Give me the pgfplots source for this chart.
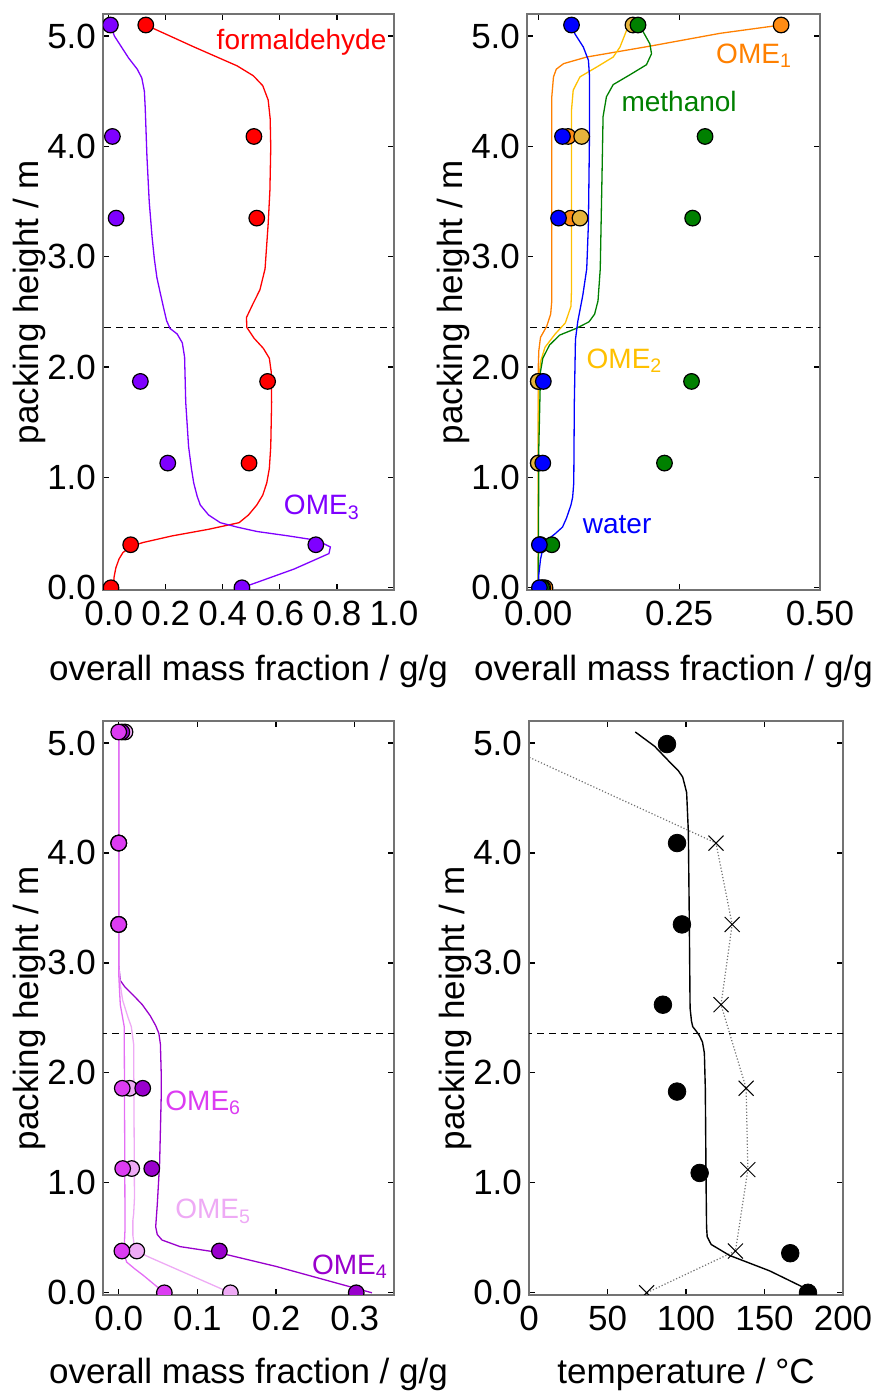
\documentclass[border=0pt]{standalone}
\usepackage{fontspec}
\setmainfont{Liberation Sans}
\usepackage{pgfplots}
\pgfplotsset{compat=1.18}

\definecolor{cRed}{RGB}{255,0,0}
\definecolor{cOMEiii}{RGB}{127,0,255}
\definecolor{cBlue}{RGB}{0,0,255}
\definecolor{cGreen}{RGB}{0,128,0}
\definecolor{cOrange}{RGB}{255,128,0}
\definecolor{cOrangeFill}{RGB}{255,140,20}
\definecolor{cGold}{RGB}{255,192,0}
\definecolor{cGoldFill}{RGB}{230,180,60}
\definecolor{cOMEiv}{RGB}{153,0,204}
\definecolor{cOMEv}{RGB}{238,170,245}
\definecolor{cOMEvi}{RGB}{220,60,242}
\definecolor{cOMEviLine}{RGB}{228,110,245}

\newcommand{\bigfont}{\fontsize{17.5}{20}\selectfont}
\newcommand{\lblfont}{\fontsize{14}{16}\selectfont}

\pgfplotsset{
  panel/.style={
    scale only axis,
    clip marker paths=true,
    tick align=inside,
    major tick length=3pt,
    tick style={line width=0.6pt, black},
    x axis line style={line width=0.8pt, black},
    y axis line style={line width=0.8pt, black!55},
    ymin=-0.02, ymax=5.2,
    ytick={0,1,2,3,4,5},
    yticklabels={0.0,1.0,2.0,3.0,4.0,5.0},
    tick label style={font=\bigfont},
    xticklabel style={yshift=-2pt},
    label style={font=\bigfont},
    xlabel style={yshift=-8pt},
    ylabel style={yshift=-6pt},
    ylabel={packing height / m},
    /pgf/number format/assume math mode=true,
  },
  lowrow/.style={xlabel style={yshift=1.2pt}},
  meas/.style={only marks, mark=*, mark size=3.9pt,
    mark options={draw=black, line width=0.6pt, fill=#1}},
  sim/.style={no marks, line width=0.65pt, color=#1},
  sep/.style={no marks, black, line width=0.5pt, dash pattern=on 3.5pt off 2.5pt},
}

\begin{document}
\begin{tikzpicture}
\useasboundingbox (0,0) rectangle (438pt,696pt);

% ---------------- formaldehyde and OME3 ----------------
\begin{axis}[panel, at={(51.5pt,401pt)}, anchor=south west,
  width=145.5pt, height=288pt,
  xmin=-0.02, xmax=1.0,
  xtick={0,0.2,0.4,0.6,0.8,1.0},
  xticklabels={0.0,0.2,0.4,0.6,0.8,1.0},
  xlabel={overall mass fraction / g/g}]
\addplot[sep] coordinates {(-0.1,2.356) (1.1,2.356)};
\addplot[sim=cRed] coordinates {
 (0.130,5.10) (0.300,4.90) (0.450,4.73) (0.507,4.64) (0.540,4.55) (0.559,4.42)
 (0.566,4.25) (0.568,3.99) (0.565,3.60) (0.559,3.30) (0.548,2.89) (0.530,2.70)
 (0.505,2.57) (0.483,2.45) (0.484,2.36) (0.510,2.26) (0.542,2.17) (0.563,2.08)
 (0.570,1.95) (0.571,1.68) (0.568,1.28) (0.563,1.08) (0.554,0.95) (0.540,0.84)
 (0.519,0.75) (0.490,0.66) (0.457,0.59) (0.350,0.53) (0.222,0.47) (0.120,0.41)
 (0.083,0.38) (0.050,0.32) (0.036,0.26) (0.025,0.18) (0.019,0.10) (0.016,0.0)};
\addplot[sim=cOMEiii] coordinates {
 (0.006,5.10) (0.020,5.00) (0.040,4.92) (0.070,4.80) (0.100,4.70) (0.116,4.62)
 (0.125,4.50) (0.128,4.35) (0.134,3.91) (0.142,3.50) (0.152,3.18) (0.160,2.98)
 (0.169,2.81) (0.180,2.68) (0.193,2.53) (0.203,2.42) (0.215,2.35) (0.240,2.30)
 (0.258,2.22) (0.266,2.09) (0.270,1.68) (0.280,1.28) (0.290,1.08) (0.298,0.95)
 (0.310,0.83) (0.321,0.75) (0.350,0.66) (0.391,0.59) (0.450,0.55) (0.520,0.51)
 (0.630,0.47) (0.730,0.43) (0.777,0.37) (0.772,0.31) (0.650,0.17) (0.467,0.0)};
\addplot[meas=cOMEiii] coordinates {
 (0.006,5.10) (0.013,4.09) (0.026,3.35) (0.111,1.87) (0.207,1.13) (0.726,0.39) (0.467,0.0)};
\addplot[meas=cRed] coordinates {
 (0.130,5.10) (0.509,4.09) (0.519,3.35) (0.557,1.87) (0.492,1.13) (0.077,0.39) (0.008,0.0)};
\node[text=cRed, font=\lblfont] at (axis cs:0.676,4.94) {formaldehyde};
\node[text=cOMEiii, font=\lblfont] at (axis cs:0.747,0.73) {OME\textsubscript{3}};
\end{axis}

% ---------------- OME1, OME2, methanol, water ----------------
\begin{axis}[panel, at={(263.5pt,401pt)}, anchor=south west,
  width=146.5pt, height=288pt,
  xmin=-0.02, xmax=0.5,
  xtick={0,0.25,0.5},
  xticklabels={0.00,0.25,0.50},
  xlabel={overall mass fraction / g/g}]
\addplot[sep] coordinates {(-0.1,2.356) (0.6,2.356)};
\addplot[sim=cOrange] coordinates {
 (0.431,5.10) (0.323,5.025) (0.200,4.91) (0.086,4.81) (0.045,4.75) (0.032,4.70)
 (0.027,4.63) (0.024,4.45) (0.024,2.60) (0.022,2.48) (0.015,2.37) (0.004,2.27)
 (0.001,2.15) (0.0,2.0) (0.0,0.0)};
\addplot[sim=cGold] coordinates {
 (0.168,5.10) (0.157,5.055) (0.145,4.90) (0.133,4.81) (0.104,4.72) (0.074,4.63)
 (0.062,4.51) (0.059,4.33) (0.059,2.70) (0.058,2.55) (0.048,2.40) (0.030,2.30)
 (0.012,2.18) (0.004,2.05) (0.001,1.88) (0.0,1.5) (0.0,0.0)};
\addplot[sim=cGreen] coordinates {
 (0.177,5.10) (0.186,5.04) (0.198,4.93) (0.201,4.84) (0.192,4.74) (0.163,4.65)
 (0.133,4.56) (0.121,4.45) (0.115,4.27) (0.113,3.70) (0.110,2.89) (0.106,2.60)
 (0.100,2.48) (0.090,2.41) (0.067,2.35) (0.038,2.29) (0.020,2.20) (0.008,2.08)
 (0.004,1.96) (0.001,1.28) (0.0,0.0)};
\addplot[sim=cBlue] coordinates {
 (0.060,5.10) (0.065,5.02) (0.080,4.90) (0.089,4.78) (0.091,4.63) (0.091,4.15)
 (0.089,3.30) (0.086,2.89) (0.079,2.65) (0.070,2.41) (0.066,2.25) (0.064,1.68)
 (0.063,0.95) (0.061,0.82) (0.058,0.75) (0.050,0.63) (0.043,0.55) (0.030,0.49)
 (0.020,0.45) (0.008,0.35) (0.004,0.26) (0.001,0.12) (0.0,0.0)};
\addplot[meas=cOrangeFill] coordinates {
 (0.431,5.10) (0.053,4.09) (0.058,3.35) (0.0,1.87) (0.0,1.13) (0.004,0.39) (0.012,0.0)};
\addplot[meas=cGoldFill] coordinates {
 (0.168,5.10) (0.077,4.09) (0.074,3.35) (0.0,1.87) (0.0,1.13) (0.003,0.39) (0.008,0.0)};
\addplot[meas=cGreen] coordinates {
 (0.177,5.10) (0.296,4.09) (0.274,3.35) (0.272,1.87) (0.224,1.13) (0.024,0.39) (0.006,0.0)};
\addplot[meas=cBlue] coordinates {
 (0.059,5.10) (0.043,4.09) (0.036,3.35) (0.009,1.87) (0.008,1.13) (0.002,0.39) (0.002,0.0)};
\node[text=cOrange, font=\lblfont] at (axis cs:0.383,4.82) {OME\textsubscript{1}};
\node[text=cGreen, font=\lblfont] at (axis cs:0.250,4.41) {methanol};
\node[text=cGold, font=\lblfont] at (axis cs:0.153,2.06) {OME\textsubscript{2}};
\node[text=cBlue, font=\lblfont] at (axis cs:0.140,0.57) {water};
\end{axis}

% ---------------- OME4, OME5, OME6 ----------------
\begin{axis}[panel, lowrow, at={(51.5pt,48.5pt)}, anchor=south west,
  width=145.5pt, height=287pt,
  xmin=-0.02, xmax=0.35,
  xtick={0,0.1,0.2,0.3},
  xticklabels={0.0,0.1,0.2,0.3},
  xlabel={overall mass fraction / g/g}]
\addplot[sep] coordinates {(-0.1,2.356) (0.5,2.356)};
\addplot[sim=cOMEiv] coordinates {
 (0.0,5.10) (0.0,2.98) (0.002,2.84) (0.008,2.78) (0.018,2.71) (0.030,2.62)
 (0.040,2.52) (0.047,2.43) (0.051,2.36) (0.053,2.26) (0.054,2.00) (0.054,1.78)
 (0.052,1.18) (0.049,0.80) (0.048,0.70) (0.047,0.60) (0.049,0.53) (0.055,0.48)
 (0.078,0.42) (0.124,0.37) (0.200,0.24) (0.322,0.0)};
\addplot[sim=cOMEv] coordinates {
 (0.0,5.10) (0.0,2.98) (0.002,2.80) (0.005,2.66) (0.012,2.50) (0.016,2.42)
 (0.019,2.26) (0.020,0.86) (0.019,0.72) (0.018,0.66) (0.018,0.52) (0.020,0.42)
 (0.028,0.36) (0.040,0.32) (0.142,0.0)};
\addplot[sim=cOMEviLine] coordinates {
 (0.0,5.10) (0.0,2.90) (0.001,2.75) (0.002,2.62) (0.005,2.50) (0.007,2.42)
 (0.008,0.58) (0.007,0.42) (0.008,0.33) (0.010,0.28) (0.020,0.22) (0.031,0.16)
 (0.058,0.0)};
\addplot[meas=cOMEv] coordinates {
 (0.008,5.10) (0.0,4.09) (0.0,3.35) (0.014,1.86) (0.0165,1.13) (0.023,0.38) (0.142,0.0)};
\addplot[meas=cOMEiv] coordinates {
 (0.004,5.10) (0.0,4.09) (0.0,3.35) (0.0305,1.86) (0.042,1.13) (0.128,0.38) (0.302,0.0)};
\addplot[meas=cOMEvi] coordinates {
 (0.0,5.10) (0.0,4.09) (0.0,3.35) (0.0045,1.86) (0.005,1.13) (0.004,0.38) (0.058,0.0)};
\node[text=cOMEvi, font=\lblfont] at (axis cs:0.1075,1.73) {OME\textsubscript{6}};
\node[text=cOMEv, font=\lblfont] at (axis cs:0.120,0.74) {OME\textsubscript{5}};
\node[text=cOMEiv, font=\lblfont] at (axis cs:0.294,0.24) {OME\textsubscript{4}};
\end{axis}

% ---------------- temperature profile ----------------
\begin{axis}[panel, lowrow, at={(264.5pt,48.5pt)}, anchor=south west,
  width=157pt, height=287pt,
  xmin=0, xmax=200,
  xtick={0,50,100,150,200},
  xticklabels={0,50,100,150,200},
  xlabel={temperature / °C}]
\addplot[sep] coordinates {(-10,2.356) (210,2.356)};
\addplot[no marks, black!55, line width=0.6pt, densely dotted] coordinates {
 (-35,5.10) (119.1,4.09) (129.4,3.35) (122.3,2.62) (138.3,1.86) (139.4,1.12)
 (131.5,0.38) (74.9,0.0)};
\addplot[only marks, mark=x, mark size=5.3pt, mark options={black, line width=0.5pt}]
 coordinates {
 (119.1,4.09) (129.4,3.35) (122.3,2.62) (138.3,1.86) (139.4,1.12) (131.5,0.38) (74.9,0.0)};
\addplot[no marks, black, line width=0.7pt] coordinates {
 (67.7,5.10) (80.0,4.97) (89.4,4.83) (95.0,4.75) (97.9,4.69) (100.4,4.55)
 (101.5,4.19) (102.1,3.39) (102.6,2.59) (103.5,2.47) (104.3,2.42) (106.5,2.38)
 (108.5,2.34) (110.5,2.28) (111.7,2.18) (112.3,1.86) (112.8,0.98) (113.1,0.60)
 (113.5,0.51) (116.0,0.44) (127.7,0.34) (153.2,0.20) (181.9,0.0)};
\addplot[only marks, mark=*, mark size=4.4pt, black] coordinates {
 (87.9,4.99) (94.3,4.09) (97.4,3.35) (85.3,2.62) (94.3,1.83) (108.7,1.09) (166.4,0.36) (177.7,0.0)};
\end{axis}
\end{tikzpicture}
\end{document}
